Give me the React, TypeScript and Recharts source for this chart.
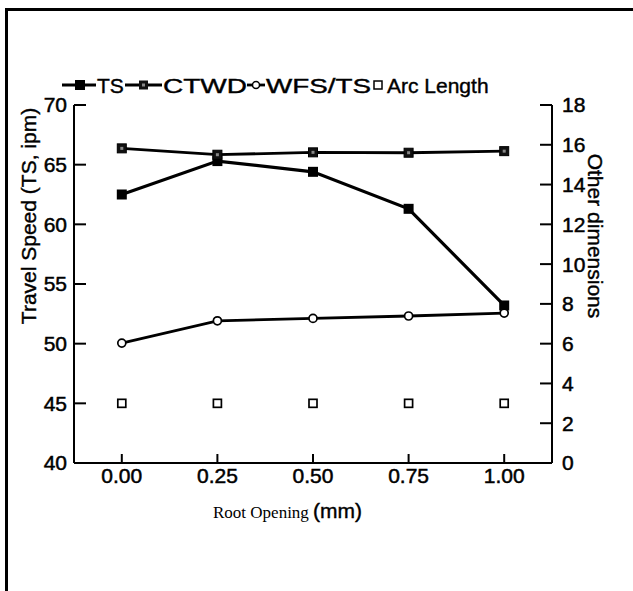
import { ComposedChart, Line, XAxis, YAxis, Label } from 'recharts'

const rootOpening = [0, 0.25, 0.5, 0.75, 1]
const travelSpeed = [62.5, 65.3, 64.4, 61.3, 53.2]
const ctwd = [15.82, 15.5, 15.62, 15.6, 15.68]
const wfsPerTs = [6.03, 7.15, 7.27, 7.39, 7.54]
const arcLength = [3.0, 3.0, 3.0, 3.0, 3.0]

const xTicks = [0, 0.25, 0.5, 0.75, 1]
const leftTicks = [40, 45, 50, 55, 60, 65, 70]
const rightTicks = [0, 2, 4, 6, 8, 10, 12, 14, 16, 18]

const data = rootOpening.map((x, i) => ({
  x,
  ts: travelSpeed[i],
  ctwd: ctwd[i],
  wfs: wfsPerTs[i],
  arc: arcLength[i],
}))

const sans = '"Liberation Sans", Arial, sans-serif'
// scanned original prints heavier than a plain regular face, so thicken a little
const tickStyle = { fontSize: 21, fontFamily: sans, fill: '#000', stroke: '#000', strokeWidth: 0.5 }

const filledSquare = (p: any) => (
  <rect key={`ts-${p.index}`} x={p.cx - 5} y={p.cy - 5} width={10} height={10} fill="#000" />
)
const dottedSquare = (p: any) => (
  <g key={`ct-${p.index}`}>
    <rect x={p.cx - 4.5} y={p.cy - 4.5} width={9} height={9} fill="#111" stroke="#000" strokeWidth={1} />
    <rect x={p.cx - 1.5} y={p.cy - 1.5} width={3} height={3} fill="#888" />
  </g>
)
const openCircle = (p: any) => (
  <circle key={`wf-${p.index}`} cx={p.cx} cy={p.cy} r={4} fill="#fff" stroke="#000" strokeWidth={1.7} />
)
const openSquare = (p: any) => (
  <rect key={`ar-${p.index}`} x={p.cx - 4} y={p.cy - 4} width={8} height={8} fill="#fff" stroke="#000" strokeWidth={1.7} />
)

function LegendKey() {
  const y = 85
  return (
    <svg width={633} height={110} style={{ position: 'absolute', left: 0, top: 0 }}>
      <g stroke="#000" strokeWidth={2.8}>
        <line x1={62} y1={y} x2={96} y2={y} />
        <line x1={125} y1={y} x2={162} y2={y} />
        <line x1={247} y1={y} x2={265} y2={y} />
      </g>
      <rect x={75} y={y - 5} width={10} height={10} fill="#000" />
      <rect x={139} y={y - 4.5} width={9} height={9} fill="#111" />
      <rect x={142} y={y - 1.5} width={3} height={3} fill="#888" />
      <circle cx={256} cy={y} r={3.5} fill="#fff" stroke="#000" strokeWidth={1.5} />
      <rect x={374} y={y - 4} width={8} height={8} fill="#fff" stroke="#000" strokeWidth={1.5} />
      <g style={{ fontFamily: sans, fontSize: 21 }} fill="#000" stroke="#000" strokeWidth={0.4}>
        <text x={97} y={93}>TS</text>
        <text x={163} y={93} textLength={84} lengthAdjust="spacingAndGlyphs">CTWD</text>
        <text x={266} y={93} textLength={105} lengthAdjust="spacingAndGlyphs">WFS/TS</text>
        <text x={387} y={93}>Arc Length</text>
      </g>
    </svg>
  )
}

export default function App() {
  return (
    <div style={{ position: 'absolute', left: 0, top: 0, width: 633, height: 591, overflow: 'hidden', background: '#fff' }}>
      <div
        style={{
          position: 'absolute',
          left: 5,
          top: 8,
          width: 700,
          height: 700,
          borderTop: '3px solid #000',
          borderLeft: '3px solid #000',
        }}
      />
      <div style={{ position: 'absolute', left: 0, top: 0 }}>
        <ComposedChart width={633} height={591} data={data} margin={{ top: 105, right: 21, bottom: 78, left: 14 }}>
          <XAxis
            dataKey="x"
            type="number"
            domain={[-0.125, 1.125]}
            ticks={xTicks}
            tickFormatter={(v) => Number(v).toFixed(2)}
            height={50}
            stroke="#000"
            strokeWidth={2}
            tick={tickStyle}
            tickSize={-9}
            tickMargin={14}
            allowDataOverflow
          >
            <Label
              content={() => (
                <text x={213} y={518} fill="#000">
                  <tspan style={{ fontFamily: '"Liberation Serif", "Times New Roman", serif', fontSize: 17 }}>Root Opening </tspan>
                  <tspan style={{ fontFamily: sans, fontSize: 21 }} stroke="#000" strokeWidth={0.4}>(mm)</tspan>
                </text>
              )}
            />
          </XAxis>
          <YAxis
            yAxisId="left"
            orientation="left"
            domain={[40, 70]}
            ticks={leftTicks}
            width={60}
            stroke="#000"
            strokeWidth={2}
            tick={tickStyle}
            tickSize={-12}
            tickMargin={19}
            allowDataOverflow
          >
            <Label
              content={() => (
                <text
                  x={28}
                  y={216}
                  transform="rotate(-90 28 216)"
                  textAnchor="middle"
                  dominantBaseline="central"
                  style={{ fontFamily: sans, fontSize: 21 }}
                  fill="#000"
                  stroke="#000"
                  strokeWidth={0.4}
                >
                  Travel Speed (TS, ipm)
                </text>
              )}
            />
          </YAxis>
          <YAxis
            yAxisId="right"
            orientation="right"
            domain={[0, 18]}
            ticks={rightTicks}
            width={60}
            stroke="#000"
            strokeWidth={2}
            tick={tickStyle}
            tickSize={-12}
            tickMargin={22}
            allowDataOverflow
          >
            <Label
              content={() => (
                <text
                  x={595}
                  y={236}
                  transform="rotate(90 595 236)"
                  textAnchor="middle"
                  dominantBaseline="central"
                  style={{ fontFamily: sans, fontSize: 21 }}
                  fill="#000"
                  stroke="#000"
                  strokeWidth={0.4}
                >
                  Other dimensions
                </text>
              )}
            />
          </YAxis>
          <Line yAxisId="left" dataKey="ts" stroke="#000" strokeWidth={3.2} dot={filledSquare} activeDot={false} isAnimationActive={false} />
          <Line yAxisId="right" dataKey="ctwd" stroke="#000" strokeWidth={2.8} dot={dottedSquare} activeDot={false} isAnimationActive={false} />
          <Line yAxisId="right" dataKey="wfs" stroke="#000" strokeWidth={2.8} dot={openCircle} activeDot={false} isAnimationActive={false} />
          <Line yAxisId="right" dataKey="arc" stroke="none" dot={openSquare} activeDot={false} isAnimationActive={false} />
        </ComposedChart>
      </div>
      <LegendKey />
    </div>
  )
}
